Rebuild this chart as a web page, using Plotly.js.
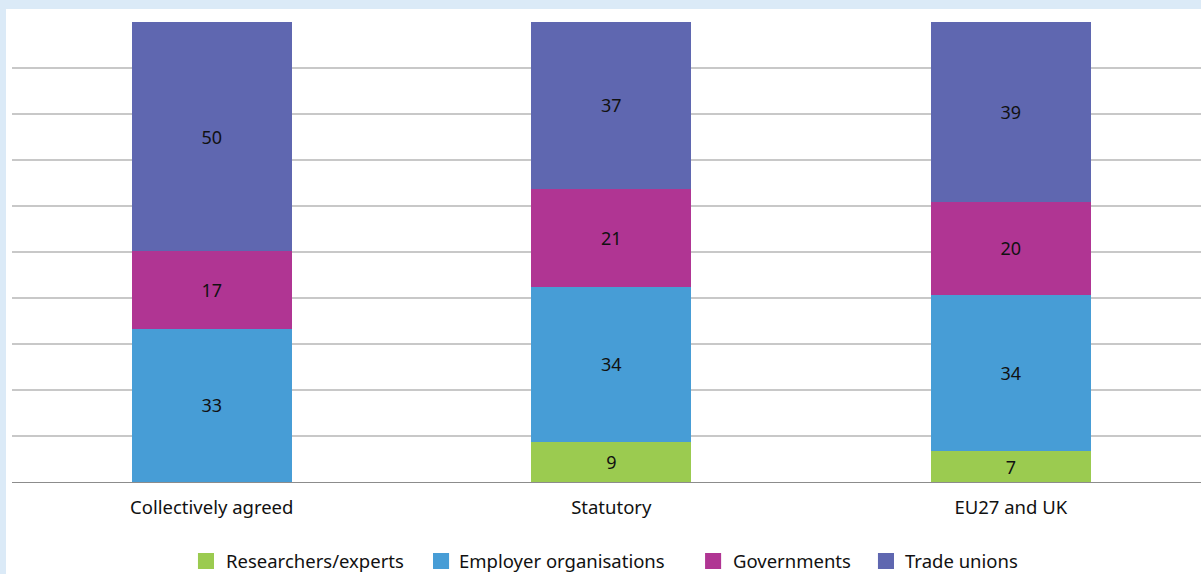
<!DOCTYPE html>
<html>
<head>
<meta charset="utf-8">
<script src="https://cdn.plot.ly/plotly-3.0.1.min.js"></script>
<style>
  html, body { margin:0; padding:0; background:#dbeaf7; width:1201px; height:574px; overflow:hidden; }
  #chart { position:absolute; left:6px; top:9px; width:1195px; height:620px; background:#fff; }
</style>
</head>
<body>
<div id="chart"></div>
<script>
const categories = ["Collectively agreed", "Statutory", "EU27 and UK"];
const researchers = [0, 8.6, 6.7];
const employers = [33.3, 33.9, 34.0];
const governments = [16.9, 21.1, 20.2];
const tradeUnions = [49.8, 36.6, 39.1];
const seriesNames = ["Researchers/experts", "Employer organisations", "Governments", "Trade unions"];
const seriesColors = ["#9bcb50", "#479dd6", "#b03593", "#5f67b0"];
const seriesValues = [researchers, employers, governments, tradeUnions];

const traces = seriesValues.map((vals, i) => ({
  type: "bar",
  name: seriesNames[i],
  x: categories,
  y: vals,
  marker: { color: seriesColors[i], line: { width: 0 } },
  text: vals.map(v => v > 0 ? Math.round(v).toString() : ""),
  textposition: "inside",
  insidetextanchor: "middle",
  textangle: 0,
  textfont: { family: "Noto Sans, sans-serif", size: 18, color: "#111" },
  hoverinfo: "x+y+name",
  showlegend: false
}));

// Custom legend (positions in paper coordinates)
const legendSquareX = [0.1564, 0.3541, 0.5829, 0.7283];
const legendTextX = [0.1791, 0.3751, 0.6056, 0.7502];
const squareW = 0.0135;
const shapes = legendSquareX.map((x0, i) => ({
  type: "rect", xref: "paper", yref: "paper",
  x0: x0, x1: x0 + squareW, y0: -0.1891, y1: -0.1543,
  fillcolor: seriesColors[i], line: { width: 0 }
}));
const annotations = legendTextX.map((x, i) => ({
  xref: "paper", yref: "paper", x: x, y: -0.1696,
  xanchor: "left", yanchor: "middle", showarrow: false,
  text: seriesNames[i], borderpad: 0,
  font: { family: "Noto Sans, sans-serif", size: 18.5, color: "#111" }
}));

const layout = {
  width: 1195,
  height: 620,
  barmode: "stack",
  bargap: 0.6,
  paper_bgcolor: "#ffffff",
  plot_bgcolor: "#ffffff",
  margin: { l: 6, r: 0, t: 13, b: 147 },
  font: { family: "Noto Sans, sans-serif", size: 18, color: "#111" },
  xaxis: {
    range: [-0.5, 2.476],
    showgrid: false,
    showline: true,
    linecolor: "#8c8c8c",
    linewidth: 1.3,
    ticks: "",
    ticklabelstandoff: 8,
    tickfont: { size: 18.5, color: "#111" },
    fixedrange: true
  },
  yaxis: {
    range: [0, 100],
    dtick: 10,
    showgrid: true,
    gridcolor: "#c8c8c8",
    gridwidth: 1.3,
    showticklabels: false,
    zeroline: false,
    ticks: "",
    fixedrange: true
  },
  showlegend: false,
  shapes: shapes,
  annotations: annotations,
  uniformtext: { mode: "show", minsize: 10 }
};

Plotly.newPlot("chart", traces, layout, { displayModeBar: false, staticPlot: true });
</script>
</body>
</html>
